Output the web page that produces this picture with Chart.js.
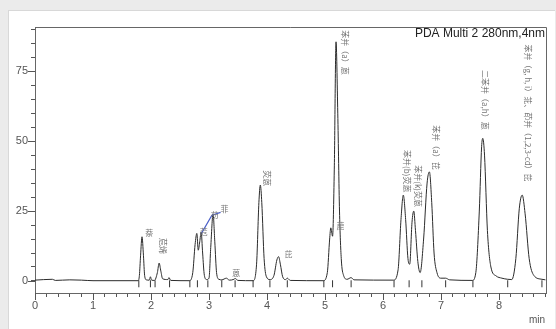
<!DOCTYPE html>
<html>
<head>
<meta charset="utf-8">
<script src="https://cdn.jsdelivr.net/npm/chart.js@4/dist/chart.umd.min.js"></script>
<style>
  html, body { margin: 0; padding: 0; background: #ebebeb; }
  #panel { position: absolute; left: 8px; top: 10px; width: 546px; height: 319px; background: #fff; border-left: 1px solid #d8d8d8; border-top: 1px solid #d8d8d8; }
  #wrap { position: absolute; left: 0; top: 0; width: 556px; height: 329px; }
</style>
</head>
<body>
<div id="panel"></div>
<div id="wrap"><canvas id="chart" width="556" height="329"></canvas></div>
<script>
// chromatogram trace (time in min, signal in mAU)
const traceTime = [
  0, 0.3, 0.35, 0.6, 0.8, 1.0, 1.5, 1.78, 1.80, 1.82, 1.845, 1.87, 1.89, 1.92, 1.97, 1.99, 2.01, 2.06,
  2.11, 2.14, 2.17, 2.2, 2.29, 2.31, 2.34, 2.66, 2.72, 2.76, 2.79, 2.815, 2.84, 2.865, 2.89, 2.92, 2.96,
  3.0, 3.03, 3.07, 3.1, 3.13, 3.17, 3.22, 3.3, 3.35, 3.43, 3.45, 3.5, 3.76, 3.82, 3.86, 3.885, 3.91, 3.95,
  3.99, 4.05, 4.12, 4.17, 4.2, 4.23, 4.27, 4.32, 4.35, 4.4, 4.97, 5.04, 5.08, 5.1, 5.13, 5.16, 5.19, 5.22,
  5.25, 5.28, 5.32, 5.38, 5.45, 5.5, 6.18, 6.26, 6.31, 6.35, 6.39, 6.43, 6.46, 6.5, 6.53, 6.56, 6.6, 6.64,
  6.7, 6.76, 6.8, 6.84, 6.88, 6.93, 7.0, 7.08, 7.15, 7.54, 7.6, 7.66, 7.7, 7.72, 7.75, 7.8, 7.86, 7.95,
  8.05, 8.15, 8.22, 8.29, 8.35, 8.40, 8.45, 8.52, 8.6, 8.74, 8.8
];
const traceSignal = [
  0.3, 0.6, 0.2, 0.4, 0.3, 0.1, 0.1, 0.1, 2, 9, 15.8, 9, 2, 0.4, 0.3, 1.5, 0.3, 0.2,
  3, 6.4, 3.5, 0.8, 0.5, 1.2, 0.2, 0.1, 3, 13, 17, 11, 14, 17.5, 10, 2, 0.5,
  1, 12, 24, 14, 3, 0.6, 0.4, 1, 0.3, 0.6, 0.9, 0.2, 0.1, 6, 28, 34.3, 28, 8,
  1.5, 0.5, 2, 7.5, 8.7, 6, 1.5, 0.5, 1, 0.2, 0.1, 3, 15, 19, 16, 40, 85.5, 60,
  25, 8, 2, 0.6, 1.2, 0.4, 0.3, 4, 22, 30.7, 22, 8, 6, 21, 25, 18, 7, 3,
  15, 35, 39, 28, 10, 3, 1, 1, 0.4, 0.2, 3, 25, 48, 51, 45, 18, 5, 1.8,
  1, 0.6, 0.5, 8, 26, 30.7, 24, 8, 2, 0.6, 0.4
];

// integration start/end markers (min)
const markerTimes = [1.79, 1.99, 2.07, 2.32, 2.67, 2.8, 2.98, 3.22, 3.45, 3.76, 4.05, 4.35,
  4.98, 5.13, 5.45, 6.19, 6.45, 6.67, 7.08, 7.55, 8.15, 8.74];

// peak names with label anchor (time, signal at top of the label)
const peakNames = ['萘', '苊烯', '苊', '芴', '菲', '蒽', '荧蒽', '芘', '䓛', '苯并（a）蒽',
  '苯并(b)荧蒽', '苯并(k)荧蒽', '苯并（a）芘', '二苯并（a,h）蒽', '苯并（g, h, i）苝、茚并（1,2,3-cd）芘'];
const labelTime = [1.9, 2.21, 2.84, 3.03, 3.2, 3.4, 4.0, 4.3, 5.2, 5.34, 6.41, 6.6, 6.92, 7.76, 8.5];
const labelSignal = [18.6, 15.4, 19, 25, 27, 4.3, 39.6, 11, 21, 89.6, 46.8, 41.4, 55.7, 75.4, 84.5];

const yTickMajor = [0, 25, 50, 75];
const xTickMajor = [0, 1, 2, 3, 4, 5, 6, 7, 8];

const tracePoints = traceTime.map((t, i) => ({ x: t, y: traceSignal[i] }));
const markerPoints = markerTimes.map(t => ({ x: t, y: -1 }));

const decor = {
  id: 'decor',
  afterDraw(chart) {
    const { ctx, chartArea: a, scales: { x, y } } = chart;
    ctx.save();
    // frame top / right
    ctx.strokeStyle = '#666';
    ctx.lineWidth = 1;
    ctx.beginPath();
    ctx.moveTo(a.left, a.top + 0.5);
    ctx.lineTo(a.right + 0.5, a.top + 0.5);
    ctx.lineTo(a.right + 0.5, a.bottom);
    ctx.stroke();
    // longer major ticks
    ctx.strokeStyle = '#555';
    ctx.beginPath();
    yTickMajor.forEach(v => {
      const py = Math.round(y.getPixelForValue(v)) + 0.5;
      ctx.moveTo(a.left - 7, py); ctx.lineTo(a.left, py);
    });
    xTickMajor.forEach(v => {
      const px = Math.round(x.getPixelForValue(v)) + 0.5;
      ctx.moveTo(px, a.bottom); ctx.lineTo(px, a.bottom + 7);
    });
    ctx.stroke();
    // title
    ctx.fillStyle = '#222';
    ctx.font = '12px "Liberation Sans", Arial, sans-serif';
    ctx.textAlign = 'right';
    ctx.textBaseline = 'top';
    ctx.fillText('PDA Multi 2 280nm,4nm', a.right - 1, a.top + 1);
    // min
    ctx.fillStyle = '#555';
    ctx.font = '10px "Liberation Sans", Arial, sans-serif';
    ctx.fillText('min', a.right - 1, a.bottom + 22);
    // leader line (blue)
    ctx.strokeStyle = '#4a5fc8';
    ctx.lineWidth = 1.2;
    ctx.beginPath();
    ctx.moveTo(x.getPixelForValue(2.87), y.getPixelForValue(17));
    ctx.lineTo(x.getPixelForValue(3.05), y.getPixelForValue(23.5));
    ctx.lineTo(x.getPixelForValue(3.2), y.getPixelForValue(24.5));
    ctx.stroke();
    // peak labels, vertical text reading downward
    ctx.fillStyle = '#777';
    ctx.font = '8px "Noto Sans CJK SC", sans-serif';
    ctx.textAlign = 'left';
    ctx.textBaseline = 'middle';
    peakNames.forEach((name, i) => {
      const px = x.getPixelForValue(labelTime[i]);
      const py = y.getPixelForValue(labelSignal[i]);
      ctx.save();
      ctx.translate(px, py);
      if (name.length > 1) ctx.rotate(Math.PI / 2);
      ctx.fillText(name, 0, name.length > 1 ? 0 : 4);
      ctx.restore();
    });
    ctx.restore();
  }
};

new Chart(document.getElementById('chart'), {
  type: 'line',
  data: {
    datasets: [{
      data: tracePoints,
      borderColor: '#2b2b2b',
      borderWidth: 1,
      pointRadius: 0,
      cubicInterpolationMode: 'monotone',
      fill: false,
    }, {
      type: 'scatter',
      data: markerPoints,
      pointStyle: 'line',
      rotation: 90,
      pointRadius: 3.5,
      borderColor: '#333',
      borderWidth: 1,
      showLine: false,
    }],
  },
  options: {
    responsive: false,
    animation: false,
    layout: { padding: { left: 0, top: 27, right: 10, bottom: 0 } },
    plugins: { legend: { display: false }, tooltip: { enabled: false } },
    scales: {
      x: {
        type: 'linear',
        min: 0,
        max: 8.81,
        afterFit: s => { s.height = 36; },
        border: { color: '#666' },
        grid: { drawOnChartArea: false, tickLength: 4, tickColor: '#555' },
        ticks: {
          stepSize: 0.2,
          includeBounds: false,
          autoSkip: false,
          maxRotation: 0,
          color: '#555',
          padding: 2,
          font: { size: 11, family: '"Liberation Sans", Arial, sans-serif' },
          callback: v => Math.abs(v - Math.round(v)) < 1e-6 ? String(Math.round(v)) : '',
        },
      },
      y: {
        min: -4.3,
        max: 90.8,
        afterFit: s => { s.width = 35; },
        border: { color: '#666' },
        grid: { drawOnChartArea: false, tickLength: 4, tickColor: '#555' },
        ticks: {
          stepSize: 5,
          includeBounds: false,
          autoSkip: false,
          color: '#555',
          padding: 3,
          font: { size: 11, family: '"Liberation Sans", Arial, sans-serif' },
          callback: v => Math.abs(v % 25) < 1e-6 ? String(Math.round(v)) : '',
        },
      },
    },
  },
  plugins: [decor],
});
</script>
</body>
</html>
